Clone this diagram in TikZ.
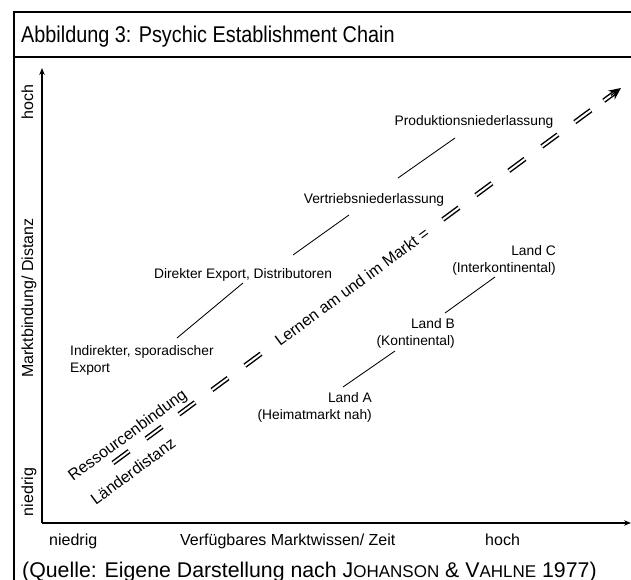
\documentclass[tikz,border=0pt]{standalone}
\usepackage{fontspec}
\setmainfont{Liberation Sans}
\newfontfamily\titlefont[FakeStretch=0.87]{Liberation Sans}
\usetikzlibrary{arrows.meta,calc}

\begin{document}
\begin{tikzpicture}[x=1pt,y=-1pt,
  frameline/.style={line width=2pt,line cap=rect},
  axisline/.style={line width=1.3pt,-{Stealth[length=7pt,width=5.5pt]}},
  leader/.style={line width=0.85pt},
  stagelabel/.style={inner sep=0pt,font=\fontsize{13.8}{17}\selectfont},
  axislabel/.style={inner sep=0pt,font=\fontsize{16}{19}\selectfont},
  flowlabel/.style={inner sep=0pt,font=\fontsize{16}{19}\selectfont,rotate=36.4},
  flowdash/.style={double,double distance=2pt,line width=1.45pt,dash pattern=on 20pt off 21pt},
]
\useasboundingbox (0,0) rectangle (631,580);

% frame with title bar
\coordinate (frameBL) at (14,581);
\coordinate (frameTL) at (14,12);
\coordinate (frameTR) at (632,12);
\coordinate (sepL) at (14,57.5);
\coordinate (sepR) at (632,57.5);
\draw[frameline] (frameBL) -- (frameTL) -- (frameTR);
\draw[frameline] (sepL) -- (sepR);
\node[inner sep=0pt,anchor=base west,font=\titlefont\fontsize{22.8}{26}\selectfont] (title) at (21,43)
  {Abbildung 3: Psychic Establishment Chain};

% axes
\coordinate (origin) at (42,523);
\coordinate (ytop) at (42,68);
\coordinate (xend) at (631,523);
\draw[axisline] (origin) -- (ytop);
\draw[axisline] (origin) -- (xend);

\node[axislabel,rotate=90,anchor=base] (yhigh) at (33,102) {hoch};
\node[axislabel,rotate=90,anchor=base] (ylabel) at (33,298) {Marktbindung/ Distanz};
\node[axislabel,rotate=90,anchor=base] (ylow) at (33,492) {niedrig};
\node[axislabel,anchor=base west] (xlow) at (49,545) {niedrig};
\node[axislabel,anchor=base west] (xlabel) at (180,545) {Verfügbares Marktwissen/ Zeit};
\node[axislabel,anchor=base west] (xhigh) at (485,545) {hoch};

% establishment stages
\node[stagelabel,align=left,anchor=north west] (indirect) at (70,345)
  {Indirekter, sporadischer\\Export};
\node[stagelabel,anchor=base] (direct) at (243,278) {Direkter Export, Distributoren};
\node[stagelabel,anchor=base] (sales) at (374,203) {Vertriebsniederlassung};
\node[stagelabel,anchor=base] (production) at (474,126) {Produktionsniederlassung};

\coordinate (s1a) at (177,338); \coordinate (s1b) at (243,283);
\coordinate (s2a) at (293,255); \coordinate (s2b) at (349,215);
\coordinate (s3a) at (398,178); \coordinate (s3b) at (455,138);
\draw[leader] (s1a) -- (s1b);
\draw[leader] (s2a) -- (s2b);
\draw[leader] (s3a) -- (s3b);

% countries by distance
\node[stagelabel,align=right,anchor=north east] (landA) at (372,392)
  {Land A\\(Heimatmarkt nah)};
\node[stagelabel,align=right,anchor=north east] (landB) at (455,318)
  {Land B\\(Kontinental)};
\node[stagelabel,align=right,anchor=north east] (landC) at (556,245)
  {Land C\\(Interkontinental)};

\coordinate (c1a) at (343,387); \coordinate (c1b) at (395,351);
\coordinate (c2a) at (445,313); \coordinate (c2b) at (495,277);
\draw[leader] (c1a) -- (c1b);
\draw[leader] (c2a) -- (c2b);

% learning path
\coordinate (flowstart) at (113,463);
\coordinate (flowtip) at (621,88);
\draw[flowdash] (flowstart) -- ($(flowstart)!185pt!(flowtip)$);
\draw[flowdash] ($(flowstart)!410pt!(flowtip)$) -- ($(flowstart)!594pt!(flowtip)$);
\draw[double,double distance=2pt,line width=1.45pt]
  ($(flowstart)!610pt!(flowtip)$) -- ($(flowstart)!623pt!(flowtip)$);
\draw[line width=1.2pt,-{Stealth[length=12pt,width=11pt]}]
  ($(flowstart)!619pt!(flowtip)$) -- (flowtip);

\node[flowlabel] (learning) at ($(flowstart)!297pt!(flowtip)$) {Lernen am und im Markt =};
\node[flowlabel] (resources) at (128,436) {Ressourcenbindung};
\node[flowlabel] (distance) at (133,471) {Länderdistanz};

% source line
\node[inner sep=0pt,anchor=base west,font=\fontsize{21.3}{24}\selectfont] (caption) at (22,577)
  {(Quelle: Eigene Darstellung nach J{\fontsize{17}{20}\selectfont OHANSON} \& V{\fontsize{17}{20}\selectfont AHLNE} 1977)};
\end{tikzpicture}
\end{document}
